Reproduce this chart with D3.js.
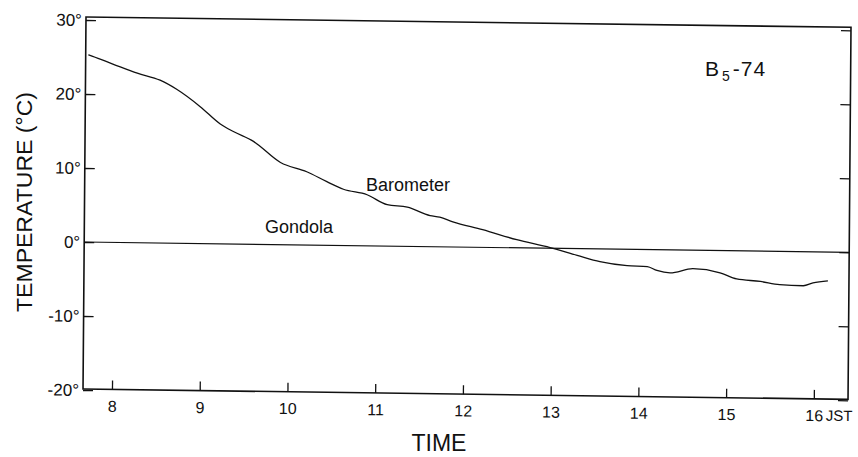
<!DOCTYPE html>
<html>
<head>
	<meta http-equiv="Content-Type" content="text/html; charset=utf-8"/>
	<title>B5-74</title>
	<style>
		body { margin: 0; background: #fff; }
		svg { display: block; font-family: "Liberation Sans", Arial, sans-serif; }
		.axis text { font-size: 16px; fill: #111; }
		.axis line { stroke: #111; stroke-width: 1.3; }
		.axis path { display: none; }
	</style>
</head>
<body>
	<svg width="858" height="457" id="viz"></svg>

	<script src="https://d3js.org/d3.v7.min.js"></script>
	<script>

		//Datos (hora JST, temperatura en grados C)
		var baro_time = [7.70, 7.75, 7.98, 8.26, 8.52, 8.71, 8.98, 9.21, 9.36, 9.59,
			9.90, 10.20, 10.43, 10.62, 10.89, 11.12, 11.35, 11.61, 11.72, 11.87,
			12.21, 12.60, 12.98, 13.29, 13.55, 13.86, 14.09, 14.20, 14.35, 14.61,
			14.92, 15.11, 15.38, 15.60, 15.87, 15.98, 16.15];
		var baro_temp = [25.3, 25.1, 24.1, 22.9, 22.0, 20.8, 18.5, 16.2, 15.2, 13.9,
			11.1, 9.9, 8.6, 7.6, 6.9, 5.6, 5.3, 4.2, 4.0, 3.4,
			2.4, 1.1, 0.1, -0.9, -1.7, -2.2, -2.3, -2.8, -3.1, -2.5,
			-3.0, -3.8, -4.1, -4.5, -4.6, -4.2, -3.9];

		var gondola_time = [7.67, 16.39];
		var gondola_temp = [0, 0];

		var x_ticks = [8, 9, 10, 11, 12, 13, 14, 15, 16];
		var y_ticks = [-20, -10, 0, 10, 20, 30];

		//Tamaño del area (la figura escaneada esta un poco inclinada)
		const W = 765, H = 372;

		const x = d3.scaleLinear().domain([7.67, 16.39]).range([0, W]);
		const y = d3.scaleLinear().domain([-20, 30]).range([H + 1, 3]);

		var svg = d3.select("#viz");

		const g = svg.append("g")
			.attr("transform", "matrix(1,0.0135,-0.008,1,86,17)");

		//Ejes
		g.append("g").attr("class", "axis")
			.call(d3.axisLeft(y).tickValues(y_ticks).tickSize(-10).tickPadding(4)
				.tickFormat(d => (d < 0 ? "-" + (-d) : d) + "°"))
			.selectAll("text").style("font-size", "17px");

		g.append("g").attr("class", "axis")
			.attr("transform", `translate(${W},0)`)
			.call(d3.axisRight(y).tickValues(y_ticks).tickSize(-10).tickFormat(""));

		var xa = g.append("g").attr("class", "axis")
			.attr("transform", `translate(0,${H})`)
			.call(d3.axisBottom(x).tickValues(x_ticks).tickSize(-9).tickPadding(11));

		xa.append("text")
			.attr("x", x(16) + 12)
			.attr("y", 11)
			.attr("dy", "0.71em")
			.style("text-anchor", "start")
			.style("font-size", "15px")
			.text("JST");

		//Marco
		g.append("rect")
			.attr("width", W).attr("height", H)
			.attr("fill", "none")
			.attr("stroke", "#111")
			.attr("stroke-width", 1.6);

		//Lineas
		const line = d3.line()
			.x(d => x(d[0]))
			.y(d => y(d[1]))
			.curve(d3.curveMonotoneX);

		g.append("path")
			.datum(d3.zip(gondola_time, gondola_temp))
			.attr("d", line)
			.attr("fill", "none")
			.attr("stroke", "#111")
			.attr("stroke-width", 1.2);

		g.append("path")
			.datum(d3.zip(baro_time, baro_temp))
			.attr("d", line)
			.attr("fill", "none")
			.attr("stroke", "#111")
			.attr("stroke-width", 1.3);

		//Textos
		svg.append("text")
			.attr("x", 366).attr("y", 191)
			.style("font-size", "18px").attr("fill", "#111")
			.text("Barometer");

		svg.append("text")
			.attr("x", 265).attr("y", 233)
			.style("font-size", "18px").attr("fill", "#111")
			.text("Gondola");

		var lbl = svg.append("text")
			.attr("x", 705).attr("y", 76)
			.style("font-size", "21px").attr("fill", "#111")
			.style("letter-spacing", "1px");
		lbl.append("tspan").text("B");
		lbl.append("tspan").attr("dx", 2).attr("dy", 5).style("font-size", "14px").text("5");
		lbl.append("tspan").attr("dx", 2).attr("dy", -5).text("-74");

		svg.append("text")
			.attr("x", 439).attr("y", 451)
			.style("font-size", "23px").attr("fill", "#111")
			.style("text-anchor", "middle")
			.text("TIME");

		svg.append("text")
			.attr("transform", "translate(32,202) rotate(-90)")
			.style("font-size", "22px").attr("fill", "#111")
			.style("text-anchor", "middle")
			.attr("textLength", 220)
			.attr("lengthAdjust", "spacingAndGlyphs")
			.text("TEMPERATURE (°C)");

	</script>
</body>
</html>
